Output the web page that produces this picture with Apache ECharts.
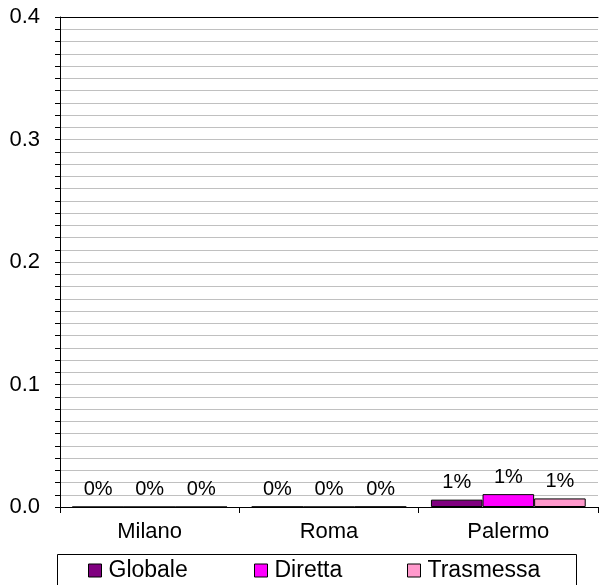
<!DOCTYPE html>
<html>
<head>
<meta charset="utf-8">
<script src="https://cdn.jsdelivr.net/npm/echarts@6/dist/echarts.min.js"></script>
<style>
  html, body { margin: 0; padding: 0; background: #fff; }
  #chart { width: 599px; height: 585px; }
</style>
</head>
<body>
<div id="chart"></div>
<script>
var cities = ['Milano', 'Roma', 'Palermo'];
var globale = [0, 0.0002, 0.006];
var diretta = [0, 0.00005, 0.0105];
var trasmessa = [0, 0.0002, 0.007];
var seriesNames = ['Globale', 'Diretta', 'Trasmessa'];
var seriesColors = ['#800080', '#ff00ff', '#ff99cc'];

var font = 'Liberation Sans, Arial, sans-serif';
var chart = echarts.init(document.getElementById('chart'));

function pct(p) {
    return Math.round(p.value * 100) + '%';
}

function makeSeries(name, data, color) {
    return {
        name: name,
        type: 'bar',
        data: data,
        barGap: '0%',
        barCategoryGap: '13.7%',
        itemStyle: { color: color, borderColor: '#000', borderWidth: 1 },
        label: {
            show: true,
            position: 'top',
            distance: 7,
            formatter: pct,
            color: '#000',
            fontFamily: font,
            fontSize: 20
        }
    };
}

var legendLefts = [88, 254, 407];

var option = {
    animation: false,
    grid: { left: 60, right: 1, top: 17, bottom: 78 },
    xAxis: [
        {
            type: 'category',
            data: cities,
            axisLine: { lineStyle: { color: '#000', width: 1 } },
            axisTick: { show: true, length: 6, lineStyle: { color: '#000' } },
            axisLabel: { color: '#000', fontFamily: font, fontSize: 22, margin: 14 }
        },
        {
            type: 'category',
            position: 'top',
            data: cities,
            axisLine: { show: true, lineStyle: { color: '#000', width: 1 } },
            axisTick: { show: false },
            axisLabel: { show: false }
        }
    ],
    yAxis: {
        type: 'value',
        min: 0,
        max: 0.4,
        interval: 0.01,
        axisLine: { show: true, lineStyle: { color: '#000' } },
        axisTick: { show: true, length: 5, lineStyle: { color: '#000' } },
        splitLine: { show: true, lineStyle: { color: '#c0c0c0', width: 1 } },
        axisLabel: {
            color: '#000',
            fontFamily: font,
            fontSize: 22,
            margin: 20,
            formatter: function (v) {
                var t = v * 10;
                if (Math.abs(t - Math.round(t)) < 1e-6) return (Math.round(t) / 10).toFixed(1);
                return '';
            }
        }
    },
    legend: seriesNames.map(function (n, i) {
        return {
            data: [n],
            left: legendLefts[i],
            top: 559,
            padding: 0,
            itemWidth: 13,
            itemHeight: 13,
            icon: 'rect',
            itemStyle: { borderColor: '#000', borderWidth: 1 },
            textStyle: { color: '#000', fontFamily: font, fontSize: 23, padding: [0, 0, 0, 2] }
        };
    }),
    graphic: [{
        type: 'rect',
        left: 55,
        top: 552,
        shape: { width: 519, height: 50 },
        style: { fill: 'none', stroke: '#000', lineWidth: 1 },
        silent: true
    }],
    series: [
        makeSeries(seriesNames[0], globale, seriesColors[0]),
        makeSeries(seriesNames[1], diretta, seriesColors[1]),
        makeSeries(seriesNames[2], trasmessa, seriesColors[2])
    ]
};
chart.setOption(option);
</script>
</body>
</html>
